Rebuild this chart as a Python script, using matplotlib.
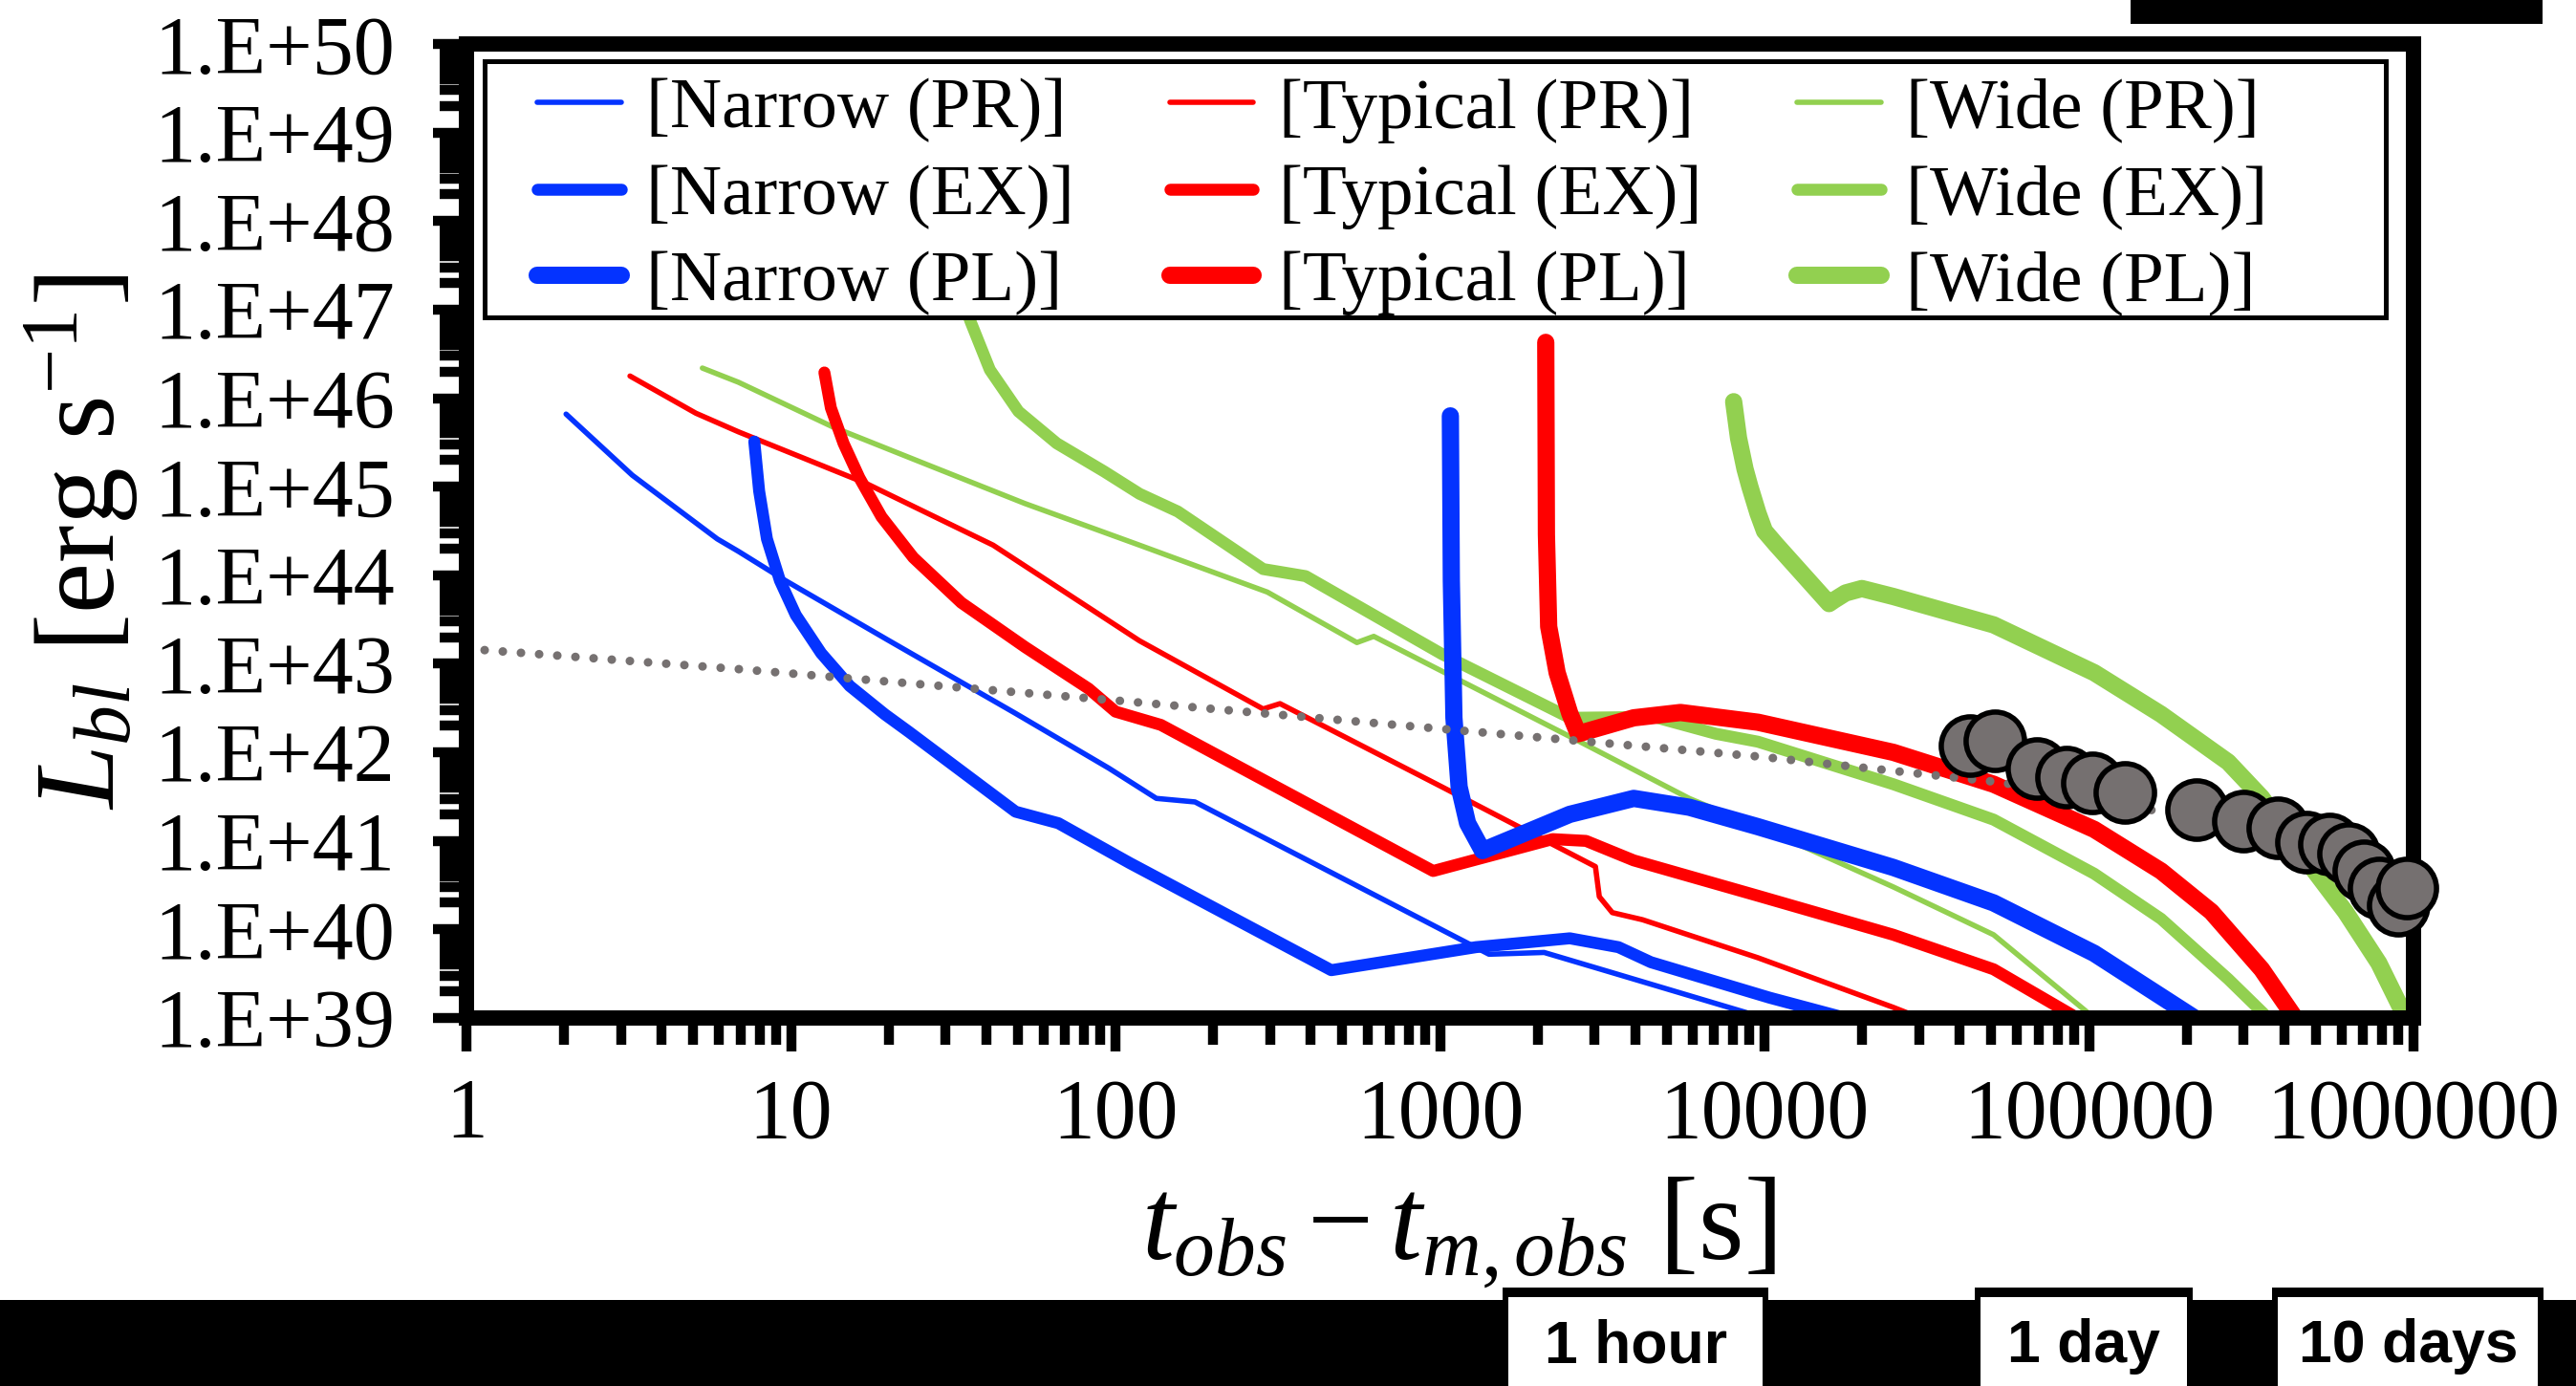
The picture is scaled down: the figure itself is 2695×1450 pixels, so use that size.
import matplotlib
matplotlib.use("Agg")
import matplotlib.pyplot as plt
import numpy as np
from matplotlib.lines import Line2D
from matplotlib.patches import Rectangle
from matplotlib.ticker import FixedLocator, FuncFormatter, NullFormatter

plt.rcParams["font.family"] = ["Liberation Serif", "DejaVu Serif"]
plt.rcParams["mathtext.fontset"] = "custom"
plt.rcParams["mathtext.rm"] = "Liberation Serif"
plt.rcParams["mathtext.it"] = "Liberation Serif:italic"

# curves as log10(t [s]) and log10(L [erg/s])
narrow_pr_t = [0.307, 0.511, 0.773, 0.838, 0.983, 1.298, 1.692, 1.98, 2.126, 2.245, 3.151, 3.321, 3.505, 4.0]
narrow_pr_L = [45.82, 45.13, 44.41, 44.27, 43.94, 43.27, 42.44, 41.82, 41.48, 41.44, 39.72, 39.74, 39.54, 39.0]
narrow_ex_t = [0.887, 0.902, 0.926, 0.966, 1.015, 1.093, 1.181, 1.289, 1.364, 1.692, 1.824, 2.044,
               2.665, 3.111, 3.40, 3.55, 3.65, 4.015, 4.25]
narrow_ex_L = [45.51, 44.95, 44.41, 43.94, 43.55, 43.12, 42.75, 42.43, 42.23, 41.33, 41.20, 40.75,
               39.54, 39.80, 39.90, 39.80, 39.63, 39.23, 39.0]
narrow_pl_t = [3.032, 3.035, 3.043, 3.059, 3.085, 3.131, 3.269, 3.40, 3.597, 3.768, 3.98, 4.397,
               4.706, 5.016, 5.325]
narrow_pl_L = [45.80, 43.94, 42.39, 41.61, 41.20, 40.89, 41.10, 41.30, 41.48, 41.38, 41.16, 40.70,
               40.30, 39.73, 39.0]

typical_pr_t = [0.504, 0.707, 0.838, 1.23, 1.623, 2.074, 2.455, 2.507, 3.006, 3.479, 3.491, 3.531,
                3.624, 3.98, 4.397, 4.48]
typical_pr_L = [46.25, 45.83, 45.62, 45.04, 44.34, 43.26, 42.49, 42.55, 41.61, 40.71, 40.37, 40.19,
                40.11, 39.68, 39.12, 39.0]
typical_ex_t = [1.103, 1.123, 1.162, 1.211, 1.279, 1.377, 1.525, 1.721, 1.917, 2.0, 2.14, 2.979,
                3.347, 3.45, 3.597, 3.98, 4.397, 4.706, 4.964]
typical_ex_L = [46.29, 45.89, 45.49, 45.10, 44.66, 44.20, 43.69, 43.19, 42.72, 42.46, 42.31, 40.66,
                41.02, 41.0, 40.78, 40.38, 39.94, 39.55, 39.0]
typical_pl_t = [3.326, 3.328, 3.335, 3.361, 3.40, 3.426, 3.597, 3.741, 3.98, 4.397, 4.706, 5.016,
                5.222, 5.377, 5.532, 5.635]
typical_pl_L = [46.63, 44.46, 43.42, 42.90, 42.44, 42.21, 42.39, 42.45, 42.34, 42.00, 41.64, 41.13,
                40.66, 40.20, 39.55, 39.0]

wide_pr_t = [0.727, 0.838, 1.132, 1.426, 1.721, 2.074, 2.468, 2.744, 2.796, 3.426, 3.768, 4.087,
             4.397, 4.706, 5.016]
wide_pr_L = [46.34, 46.18, 45.67, 45.24, 44.81, 44.34, 43.81, 43.24, 43.31, 42.13, 41.48, 40.99,
             40.48, 39.94, 39.0]
wide_ex_t = [1.49, 1.554, 1.613, 1.701, 1.819, 1.966, 2.074, 2.192, 2.455, 2.586, 3.006, 3.40,
             3.66, 3.85, 3.98, 4.397, 4.706, 5.016, 5.222, 5.429, 5.552]
wide_ex_L = [47.5, 46.86, 46.32, 45.85, 45.49, 45.17, 44.92, 44.72, 44.07, 43.99, 43.11, 42.39,
             42.40, 42.21, 42.12, 41.64, 41.24, 40.63, 40.12, 39.44, 39.0]
wide_pl_t = [3.905, 3.92, 3.94, 3.955, 3.98, 4.0, 4.035, 4.199, 4.215, 4.25, 4.30, 4.397, 4.706,
             5.016, 5.222, 5.429, 5.532, 5.687, 5.790, 5.893, 5.975]
wide_pl_L = [45.96, 45.55, 45.2, 45.0, 44.7, 44.5, 44.35, 43.68, 43.72, 43.80, 43.85, 43.76, 43.44,
             42.90, 42.43, 41.89, 41.49, 40.70, 40.20, 39.62, 39.01]

fit_t = [0.0, 0.838, 2.02, 3.99, 4.73, 5.22]
fit_L = [43.17, 42.94, 42.58, 41.95, 41.66, 41.33]

obs_t = [4.632, 4.711, 4.838, 4.930, 5.009, 5.109, 5.331, 5.475, 5.581, 5.669, 5.741, 5.800,
         5.847, 5.893, 5.952, 5.978]
obs_L = [42.08, 42.13, 41.82, 41.72, 41.66, 41.55, 41.35, 41.22, 41.15, 40.99, 40.97, 40.86,
         40.66, 40.47, 40.27, 40.47]

labels = ["[Narrow (PR)]", "[Narrow (EX)]", "[Narrow (PL)]",
          "[Typical (PR)]", "[Typical (EX)]", "[Typical (PL)]",
          "[Wide (PR)]", "[Wide (EX)]", "[Wide (PL)]"]
x_ticks = [1, 10, 100, 1000, 10000, 100000, 1000000]
y_decades = list(range(39, 51))
marker_names = ["1 hour", "1 day", "10 days"]
marker_times = [3600, 86400, 864000]

BLUE = "#0433FF"
RED = "#FF0000"
GREEN = "#92D050"
GRAY = "#767171"
W_PR, W_EX, W_PL = 4.0, 9.0, 13.0

W, H = 2695, 1450
fig = plt.figure(figsize=(W / 100, H / 100), dpi=100)
ax = fig.add_axes([488 / W, 1 - 1065 / H, (2525 - 488) / W, (1065 - 46) / H])
ax.set_xscale("log")
ax.set_yscale("log")
ax.set_xlim(1, 1e6)
ax.set_ylim(1e39, 1e50)

curves = [
    (narrow_pr_t, narrow_pr_L, BLUE, W_PR), (narrow_ex_t, narrow_ex_L, BLUE, W_EX),
    (narrow_pl_t, narrow_pl_L, BLUE, W_PL),
    (typical_pr_t, typical_pr_L, RED, W_PR), (typical_ex_t, typical_ex_L, RED, W_EX),
    (typical_pl_t, typical_pl_L, RED, W_PL),
    (wide_pr_t, wide_pr_L, GREEN, W_PR), (wide_ex_t, wide_ex_L, GREEN, W_EX),
    (wide_pl_t, wide_pl_L, GREEN, W_PL),
]
handles = []
for i, (lt, lL, c, lw) in enumerate(curves):
    # thin ones first, thick ones on top
    z = 2 + (i % 3) * 0.1 + (i // 3) * 0.01
    ax.plot(10.0 ** np.array(lt), 10.0 ** np.array(lL), color=c, lw=lw,
            solid_capstyle="round", solid_joinstyle="round", zorder=z)
    handles.append(Line2D([], [], color=c, lw=lw, solid_capstyle="round"))

ax.plot(10.0 ** np.array(fit_t), 10.0 ** np.array(fit_L), color=GRAY, lw=6.5,
        linestyle=(0, (0.01, 2.1)), dash_capstyle="round", zorder=2.5)
ax.plot(10.0 ** np.array(obs_t), 10.0 ** np.array(obs_L), "o", ms=44, mfc="#757070",
        mec="black", mew=4, ls="none", clip_on=False, zorder=6)

for s in ax.spines.values():
    s.set_linewidth(11.5)
    s.set_zorder(5)

ax.xaxis.set_major_locator(FixedLocator(x_ticks))
ax.xaxis.set_minor_locator(FixedLocator([k * 10.0 ** n for n in range(0, 6) for k in range(2, 10)]))
ax.yaxis.set_major_locator(FixedLocator([10.0 ** d for d in y_decades]))
ax.yaxis.set_minor_locator(FixedLocator([k * 10.0 ** n for n in range(39, 50) for k in range(2, 10)]))
ax.xaxis.set_major_formatter(FuncFormatter(lambda v, p: f"{v:.0f}"))
ax.yaxis.set_major_formatter(FuncFormatter(lambda v, p: f"1.E+{int(round(np.log10(v)))}"))
ax.xaxis.set_minor_formatter(NullFormatter())
ax.yaxis.set_minor_formatter(NullFormatter())
ax.tick_params(which="major", direction="out", length=25, width=7.5)
ax.tick_params(which="minor", direction="out", length=20, width=7.5)
ax.tick_params(axis="x", which="major", labelsize=63, pad=20)
ax.tick_params(axis="y", which="major", labelsize=62, pad=29)

# legend box
ax.add_patch(Rectangle((19 / 2037, (1064 - 332) / 1018), (2496 - 507) / 2037, 268 / 1018,
                       transform=ax.transAxes, fc="white", ec="black", lw=3.6, zorder=7))
leg = ax.legend(handles, labels, ncol=3, loc="upper left",
                bbox_to_anchor=((562 - 488) / 2037, (1064 - 81) / 1018), borderaxespad=0,
                borderpad=0, fontsize=54, handlelength=1.17, handletextpad=0.35,
                columnspacing=1.33, labelspacing=0.29, frameon=False)
leg.set_zorder(8)

fig.text(86 / W, 1 - 567 / H, r"$L_{bl}$ [erg s$^{-1}$]", rotation=90, fontsize=86,
         ha="center", va="center")
fig.text(1526 / W, 1 - 1290 / H, r"$t_{obs} - t_{m,obs}$ [s]", fontsize=88,
         ha="center", va="center")

# black strip along the bottom with time markers
fig.patches.append(Rectangle((0, 0), 1, 90 / H, transform=fig.transFigure,
                             fc="black", ec="none", zorder=1))
fig.patches.append(Rectangle((2229 / W, 1 - 25 / H), (2660 - 2229) / W, 25 / H,
                             transform=fig.transFigure, fc="black", ec="none", zorder=1))
fig.canvas.draw()
tab_widths = [278, 228, 284]
for name, t, w in zip(marker_names, marker_times, tab_widths):
    xc = ax.transData.transform((t, 1e39))[0] + 16
    fig.patches.append(Rectangle(((xc - w / 2) / W, 0), w / W, 103 / H, transform=fig.transFigure,
                                 fc="black", ec="none", zorder=2))
    fig.patches.append(Rectangle(((xc - w / 2 + 6) / W, 0), (w - 12) / W, 93 / H,
                                 transform=fig.transFigure, fc="white", ec="none", zorder=3))
    fig.text(xc / W, 1 - 1409 / H, name, family="Liberation Sans", weight="bold",
             fontsize=45, ha="center", va="center", zorder=4)

fig.savefig("out.png", dpi=100, facecolor="white")
